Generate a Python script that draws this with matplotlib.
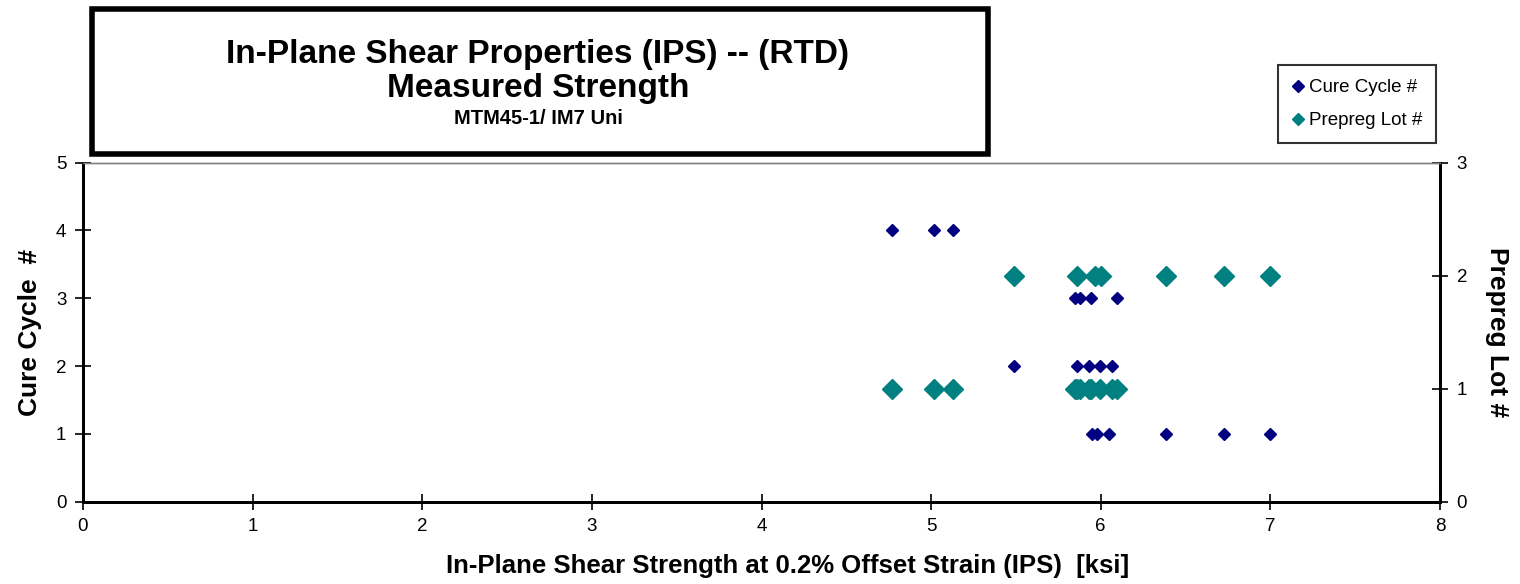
import matplotlib.pyplot as plt
from matplotlib.patches import Rectangle
from matplotlib.lines import Line2D

plt.rcParams['font.family'] = ['Liberation Sans', 'DejaVu Sans']

# cure cycle series (left axis)
cure_x = [4.768, 5.018, 5.128,
          5.849, 5.875, 5.942, 6.095,
          5.489, 5.859, 5.928, 5.996, 6.065,
          5.950, 5.980, 6.046, 6.386, 6.724, 6.995]
cure_y = [4, 4, 4,
          3, 3, 3, 3,
          2, 2, 2, 2, 2,
          1, 1, 1, 1, 1, 1]

# prepreg lot series (right axis)
lot_x = [4.768, 5.018, 5.128,
         5.849, 5.859, 5.875, 5.928, 5.942, 5.996, 6.065, 6.095,
         5.489, 5.859, 5.967, 6.000, 6.386, 6.724, 6.995]
lot_y = [1, 1, 1,
         1, 1, 1, 1, 1, 1, 1, 1,
         2, 2, 2, 2, 2, 2, 2]

navy = '#000080'
teal = '#008080'

fig = plt.figure(figsize=(15.2, 5.84), dpi=100)
ax = fig.add_axes([83 / 1520, 1 - 501.7 / 584, (1440 - 83) / 1520, (501.7 - 162.5) / 584])
ax2 = ax.twinx()

ax.plot(cure_x, cure_y, 'D', color=navy, ms=6.6, mec=navy, zorder=3)
ax2.plot(lot_x, lot_y, 'D', color=teal, ms=9.8, mec=teal, zorder=2)
ax.set_zorder(ax2.get_zorder() + 1)
ax.patch.set_visible(False)

ax.set_xlim(0, 8)
ax.set_ylim(0, 5)
ax2.set_ylim(0, 3)
ax.set_xticks(range(0, 9))
ax.set_yticks(range(0, 6))
ax2.set_yticks(range(0, 4))

for a in (ax, ax2):
    for s in a.spines.values():
        s.set_linewidth(2)
        s.set_color('black')
    a.spines['top'].set_linewidth(1)
    a.spines['top'].set_color('#808080')
ax.tick_params(axis='both', direction='inout', length=12, width=1.2, labelsize=13.5, pad=6)
ax2.tick_params(axis='y', direction='inout', length=12, width=1.2, labelsize=13.5, pad=6)

ax.set_xlabel('In-Plane Shear Strength at 0.2% Offset Strain (IPS)  [ksi]',
              fontsize=18.5, fontweight='bold')
ax.xaxis.set_label_coords(0.519, -0.155)
ax.set_ylabel('Cure Cycle  #', fontsize=19, fontweight='bold', labelpad=10)
ax2.set_ylabel('Prepreg Lot #', fontsize=19, fontweight='bold', rotation=270, labelpad=30)

# title box
fig.patches.append(Rectangle((92 / 1520, 1 - 154 / 584), (988 - 92) / 1520, (154 - 9) / 584,
                             transform=fig.transFigure, fill=False, lw=4, ec='black'))
fig.text(538 / 1520, 1 - 54 / 584, 'In-Plane Shear Properties (IPS) -- (RTD)',
         ha='center', va='center', fontsize=24, fontweight='bold')
fig.text(538 / 1520, 1 - 89 / 584, 'Measured Strength',
         ha='center', va='center', fontsize=24, fontweight='bold')
fig.text(538 / 1520, 1 - 119 / 584, 'MTM45-1/ IM7 Uni',
         ha='center', va='center', fontsize=14.5, fontweight='bold')

# legend
handles = [Line2D([], [], ls='none', marker='D', color=navy, ms=6.5),
           Line2D([], [], ls='none', marker='D', color=teal, ms=6.5)]
leg = fig.legend(handles, ['Cure Cycle #', 'Prepreg Lot #'],
                 loc='upper left', bbox_to_anchor=(1278 / 1520, 1 - 65 / 584),
                 fontsize=13.5, frameon=True, fancybox=False, handlelength=0.6,
                 handletextpad=0.3, labelspacing=0.85, borderpad=0.75, borderaxespad=0)
leg.get_frame().set_edgecolor('black')
leg.get_frame().set_linewidth(1.5)

fig.savefig('out.png', dpi=100)
